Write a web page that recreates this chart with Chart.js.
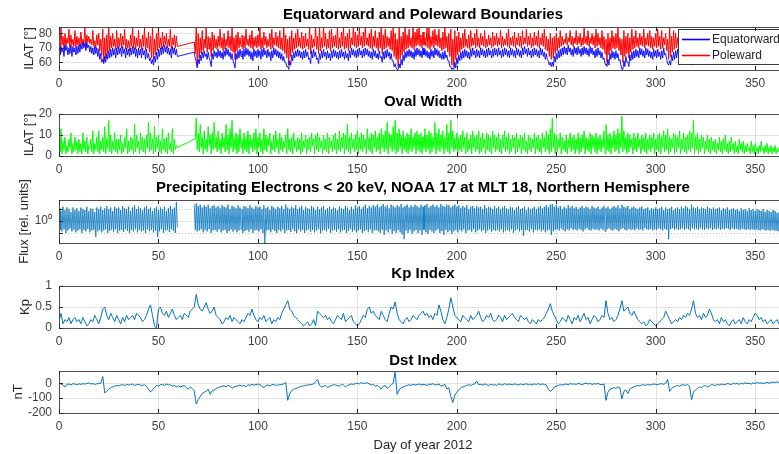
<!DOCTYPE html>
<html>
<head>
<meta charset="utf-8">
<title>Auroral oval 2012</title>
<script src="https://cdn.jsdelivr.net/npm/chart.js@4.4.1/dist/chart.umd.min.js"></script>
<style>
  body { margin: 0; background: #fff; width: 779px; height: 454px; overflow: hidden; position: relative; }
  canvas { position: absolute; left: 0; }
</style>
</head>
<body>
<canvas id="boundaries" width="790" height="94" style="top:0px"></canvas>
<canvas id="width" width="790" height="93" style="top:87px"></canvas>
<canvas id="flux" width="790" height="94" style="top:173px"></canvas>
<canvas id="kp" width="790" height="93" style="top:259px"></canvas>
<canvas id="dst" width="790" height="110" style="top:344px"></canvas>
<script>
const FONT = '"Liberation Sans", Arial, Helvetica, sans-serif';

const dayTicks = [0, 50, 100, 150, 200, 250, 300, 350];
const boundaryTicks = [60, 70, 80];
const widthTicks = [0, 10, 20];
const fluxTicks = [1];
const fluxMinorTicks = [0.5, 2];
const kpTicks = [0, 0.5, 1];
const dstTicks = [-200, -100, 0];

const EQ_COLOR = '#0000ff';
const POLE_COLOR = '#ff0000';
const boundaryLegend = [
  { label: 'Equatorward', color: EQ_COLOR },
  { label: 'Poleward', color: POLE_COLOR },
];

const N = null;

// poleward boundary, daily upper / lower excursions (ILAT deg)
const poleHi = [
  74,84,78,80,77,83,79,76,82,78, 77,81,76,84,79,78,76,82,75,79,
  80,76,83,77,79,85,78,80,76,82, 77,80,78,83,76,75,79,84,78,77,
  82,76,79,84,77,81,78,85,76,80, 84,77,81,78,80,76,83,77,79,78,
  N,N,N,N,N,N,N,N,74,85, 80,77,82,76,84,78,77,81,79,76,
  78,83,77,80,76,82,78,84,77,79, 81,77,79,78,83,76,79,82,77,78,
  79,84,77,81,78,76,80,83,77,81, 78,82,77,84,79,76,78,82,77,80,
  83,77,81,78,80,76,84,79,76,85, 78,84,77,85,80,76,82,83,78,79,
  85,77,81,84,78,80,83,77,85,81, 79,84,78,81,85,77,80,83,78,82,
  77,81,85,79,83,78,77,82,85,80, 76,84,78,81,85,79,83,77,85,81,
  83,85,79,81,77,84,85,78,82,83, 79,83,77,81,85,78,80,83,76,82,
  78,81,77,80,83,76,79,82,77,80, 83,77,80,78,82,76,79,77,81,78,
  80,77,82,78,76,80,83,77,78,81, 77,80,78,82,77,83,78,80,77,81,
  78,82,77,80,83,78,76,80,77,78, 80,77,82,78,76,80,77,82,78,77,
  82,78,80,77,84,78,82,77,80,78, 83,80,77,82,78,76,80,77,82,78,
  80,84,77,76,82,78,80,77,83,78, 82,77,80,78,83,77,80,82,78,77,
  80,83,78,82,77,80,76,84,78,82, 80,77,82,78,80,77,82,76,78,80,
  80,82,81,83,80,82,81,80,82,81, 81,82,80,83,81,80,82,81,80,82,
  81,80,82,81,80,82,81,80,81,82, 80,81,82,80,81,80,82,81,80,81,
  81,80,82,81,80,81
];
const poleLo = [
  70,72,69,71,73,70,72,71,70,72, 71,73,72,70,74,73,72,71,70,72,
  68,65,60,63,66,68,70,71,69,70, 71,70,72,69,70,68,71,70,69,71,
  70,69,71,68,70,67,63,62,65,68, 70,69,71,72,70,71,69,72,70,71,
  N,N,N,N,N,N,N,N,66,58, 63,66,68,70,67,69,64,68,70,69,
  71,70,68,69,71,70,68,67,62,68, 70,71,69,70,72,71,70,69,71,70,
  71,69,70,72,70,71,69,70,72,71, 70,69,68,66,63,58,64,67,69,70,
  71,70,69,70,71,69,66,70,71,69, 66,68,70,71,69,70,68,70,71,70,
  69,70,71,69,70,68,70,72,71,70, 71,72,70,71,72,71,70,69,71,70,
  68,70,66,69,70,71,69,68,64,62, 57,62,65,67,69,70,71,70,69,71,
  72,71,70,72,71,70,69,71,70,72, 71,70,68,69,70,67,64,58,57,62,
  65,67,69,70,71,70,69,71,72,70, 71,70,72,71,70,71,72,70,71,72,
  71,72,70,71,72,71,70,72,71,70, 72,71,70,72,73,71,72,70,71,72,
  71,70,72,71,69,68,64,62,63,66, 68,70,71,72,73,72,74,72,71,73,
  72,73,71,72,73,72,71,73,72,70, 71,72,70,69,66,60,65,68,70,69,
  70,68,65,60,64,66,63,67,69,70, 71,70,72,71,70,72,71,70,69,71,
  70,71,69,70,72,68,62,64,67,69, 70,71,69,70,71,70,68,66,64,66,
  68,69,70,71,70,72,71,70,72,71, 72,71,72,73,72,71,72,73,72,71,
  72,73,72,71,73,72,73,72,71,72, 73,72,71,72,73,72,71,72,73,72,
  72,73,72,71,72,73
];

// equatorward boundary, daily upper / lower excursions (ILAT deg)
const eqHi = [
  70,71,70,72,71,70,72,71,70,71, 72,73,74,73,74,72,71,70,71,70,
  69,66,62,64,66,68,69,70,69,70, 71,70,71,69,70,69,70,71,70,69,
  70,69,70,68,69,66,63,62,64,67, 69,70,71,72,71,70,69,71,70,69,
  N,N,N,N,N,N,N,N,67,60, 62,65,67,68,66,67,61,66,68,67,
  69,68,67,68,70,69,67,66,59,66, 68,69,68,69,70,69,68,67,69,68,
  69,68,69,70,68,69,67,68,70,69, 68,67,66,64,60,57,61,65,67,68,
  69,68,67,68,69,67,63,68,69,67, 63,66,68,69,67,68,66,68,69,68,
  67,68,69,67,68,66,68,70,69,68, 69,70,68,69,70,69,68,67,69,68,
  66,68,64,67,68,69,67,66,61,59, 55,59,62,65,67,68,69,68,67,69,
  70,69,68,70,69,68,67,69,68,70, 69,68,66,67,68,65,61,57,56,60,
  63,65,67,68,69,68,67,69,70,68, 69,68,70,69,68,69,70,68,69,70,
  69,70,68,69,70,69,68,70,69,68, 70,69,68,70,71,69,70,68,69,70,
  69,68,70,69,67,66,61,60,60,64, 66,68,69,70,71,70,72,70,69,71,
  70,71,69,70,71,70,69,71,70,68, 69,70,68,67,63,58,62,66,68,67,
  68,66,62,55,61,64,60,65,67,68, 69,68,70,69,68,70,69,68,67,69,
  68,69,67,68,70,66,59,61,65,67, 68,69,67,68,69,68,66,63,61,63,
  66,67,68,69,68,70,69,68,70,69, 70,69,70,71,70,69,70,71,70,69,
  70,71,70,69,71,70,71,70,69,70, 71,70,69,70,71,70,69,70,71,70,
  70,71,70,69,70,71
];
const eqLo = [
  65,67,64,68,65,66,64,67,65,66, 67,69,70,68,70,67,66,65,66,64,
  62,60,59,60,62,63,64,65,63,65, 66,64,66,63,65,64,65,66,64,63,
  65,63,65,62,63,61,59,58,60,62, 64,65,66,67,66,65,63,66,65,64,
  N,N,N,N,N,N,N,N,63,56, 59,61,63,64,62,63,57,62,64,63,
  64,63,62,64,65,64,62,61,56,62, 63,64,62,64,65,64,62,61,64,63,
  64,62,64,65,63,64,61,63,65,64, 63,62,61,60,57,55,58,61,63,64,
  64,63,62,63,64,62,59,63,64,62, 59,62,63,64,62,63,61,63,64,63,
  62,63,64,62,63,61,63,65,64,63, 64,65,63,64,65,64,63,62,64,63,
  62,63,60,62,63,64,62,61,57,56, 55,56,58,61,63,64,64,63,62,64,
  65,64,63,65,64,63,62,64,63,65, 64,63,62,62,63,61,57,55,55,56,
  59,61,62,63,64,63,62,64,65,63, 64,63,65,64,63,64,65,63,64,65,
  64,65,63,64,65,64,63,65,64,63, 65,64,63,65,66,64,65,63,64,65,
  64,63,65,64,62,62,58,57,57,60, 62,63,64,65,66,65,67,65,64,66,
  65,66,64,65,66,65,64,66,65,63, 64,65,63,62,59,57,58,62,63,62,
  63,61,58,55,57,60,57,61,62,63, 64,63,65,64,63,65,64,63,62,64,
  63,64,62,63,65,62,58,58,61,62, 63,64,62,63,64,63,61,59,58,59,
  63,64,65,66,65,67,66,65,67,66, 67,66,67,68,67,66,67,68,67,66,
  67,68,67,66,68,67,68,67,66,67, 68,67,66,67,68,67,66,67,68,67,
  67,68,67,66,67,68
];

// oval width, daily upper / lower excursions (deg)
const widthHi = [
  6,13,7,9,5,8,11,6,9,7, 8,6,11,7,9,5,8,12,6,9,
  12,7,9,14,8,17,10,7,11,8, 8,10,6,9,13,7,9,8,15,10,
  7,11,9,8,10,16,11,8,14,9, 10,7,13,8,9,11,6,13,8,5,
  N,N,N,N,N,N,N,N,8,18, 11,15,9,12,8,14,10,11,16,9,
  12,8,11,9,15,10,13,17,9,11, 10,13,8,11,9,12,10,8,11,13,
  9,11,8,13,10,9,11,7,10,12, 8,11,9,7,10,13,8,9,11,7,
  9,8,11,7,10,8,9,11,8,10, 11,9,7,10,8,11,9,7,10,11,
  8,12,9,11,10,15,9,11,8,10, 12,9,11,10,8,13,9,11,10,12,
  9,11,13,10,12,16,11,10,14,17, 11,13,10,12,9,11,10,13,9,11,
  12,10,11,9,13,10,12,11,9,16, 11,13,10,12,9,15,11,17,12,9,
  11,9,10,12,9,11,8,10,12,9, 10,12,9,11,8,11,10,9,12,10,
  9,11,8,10,12,9,11,8,10,9, 11,8,10,9,11,7,10,9,8,11,
  9,10,8,11,9,12,10,13,18,11, 10,8,11,9,7,10,8,11,9,10,
  8,11,9,10,12,9,8,11,10,9, 11,9,10,8,12,15,10,11,9,12,
  10,13,11,19,12,9,11,10,8,11, 9,11,8,10,9,11,8,10,9,11,
  8,10,11,9,12,10,13,9,8,11, 10,9,12,8,11,9,10,12,11,17,
  9,11,8,10,9,7,10,8,9,7, 8,6,9,7,8,10,6,7,9,6,
  7,5,8,6,7,5,6,4,7,5, 6,4,5,7,4,5,6,4,5,4,
  5,3,4,5,3,4
];
const widthLo = [
  2,1,3,1,2,4,1,2,3,1, 2,1,3,2,1,4,2,1,3,2,
  1,3,2,1,4,2,1,3,2,1, 3,1,2,4,1,2,3,1,2,4,
  1,3,2,1,4,2,3,1,2,4, 2,1,3,2,1,3,2,1,3,4,
  N,N,N,N,N,N,N,N,8,3, 2,4,1,3,2,5,1,3,4,2,
  3,1,4,2,3,1,4,2,3,1, 2,4,1,3,2,1,4,2,3,1,
  4,2,1,3,2,5,1,3,2,4, 1,3,2,4,1,3,2,1,4,2,
  3,1,2,4,1,3,2,5,1,3, 2,4,1,3,2,1,4,2,3,1,
  3,2,4,1,3,2,1,4,2,3, 1,3,2,4,1,3,2,1,4,2,
  3,1,4,2,3,1,4,2,3,1, 2,4,1,3,2,1,3,2,4,1,
  3,2,1,4,2,3,1,2,4,1, 3,2,4,1,3,2,1,4,2,3,
  1,3,2,4,1,2,3,1,4,2, 3,1,2,4,1,3,2,1,4,2,
  3,2,1,4,2,3,1,2,4,1, 2,4,1,3,2,1,3,2,4,1,
  3,2,1,4,2,3,1,2,4,1, 2,4,1,3,2,1,4,2,3,1,
  3,1,2,4,1,3,2,1,4,2, 1,3,2,4,1,3,2,1,4,2,
  3,1,4,2,3,1,2,4,1,3, 2,4,1,3,2,1,3,2,4,1,
  3,2,1,4,2,3,1,2,4,1, 2,4,1,3,2,1,3,2,4,1,
  3,1,2,4,1,3,2,1,3,2, 1,3,2,1,3,2,1,2,3,1,
  2,1,3,2,1,2,3,1,2,1, 2,1,2,3,1,2,1,2,1,2,
  1,2,1,2,1,2
];

// precipitating electron flux, daily upper / lower excursions (rel. units)
const fluxHi = [
  2.1,1.8,2.3,1.9,2.2,2.0,1.7,2.2,1.9,2.1, 1.8,2.2,2.0,1.9,2.3,1.8,2.1,2.0,1.7,2.2,
  2.0,2.3,1.9,2.1,2.4,2.0,2.2,1.8,2.3,2.1, 2.2,1.9,2.4,2.1,2.0,2.3,1.8,2.2,2.5,2.0,
  2.3,2.1,1.9,2.2,2.4,2.0,2.2,1.8,2.1,2.3, 1.9,2.2,2.0,2.3,1.8,2.1,2.4,2.0,2.2,3.0,
  N,N,N,N,N,N,N,N,2.6,2.8, 2.4,2.6,2.2,2.5,2.3,2.6,2.1,2.4,2.5,2.2,
  2.4,2.1,2.5,2.3,2.2,2.6,2.0,2.4,2.3,2.1, 2.5,2.2,2.0,2.4,2.3,2.1,2.5,2.2,2.0,2.4,
  2.2,2.3,2.0,2.5,2.1,2.3,1.9,2.4,2.2,2.0, 2.3,2.1,2.4,2.0,2.6,2.2,2.0,2.3,2.1,2.5,
  2.0,2.2,2.4,1.9,2.3,2.1,2.0,2.4,2.2,1.9, 2.3,2.0,2.2,2.4,1.9,2.1,2.3,2.0,2.2,2.1,
  1.9,2.3,2.1,2.0,2.4,2.2,1.9,2.3,2.0,2.5, 2.2,2.4,2.0,2.3,2.6,2.1,2.4,2.2,2.5,2.3,
  2.6,2.2,2.4,2.7,2.3,2.5,2.1,2.6,2.4,2.2, 2.5,2.3,2.7,2.2,2.4,2.6,2.2,2.5,2.3,2.6,
  2.4,2.2,2.6,2.3,2.5,2.7,2.2,2.4,2.6,2.3, 2.5,2.2,2.7,2.4,2.3,2.6,2.5,2.2,2.4,2.6,
  2.3,2.5,2.1,2.4,2.2,2.5,2.0,2.3,2.4,2.1, 2.4,2.2,2.3,2.0,2.5,2.1,2.3,2.2,2.0,2.4,
  2.1,2.3,2.0,2.2,2.4,2.1,2.0,2.3,2.2,1.9, 2.2,2.4,2.0,2.1,2.3,1.9,2.2,2.0,2.1,2.3,
  2.0,2.2,2.4,2.1,2.3,2.5,2.2,2.6,2.7,2.3, 2.5,2.2,2.4,2.0,2.3,2.1,2.5,2.2,2.4,2.1,
  2.3,2.0,2.2,2.4,2.1,2.3,2.2,2.0,2.4,2.2, 2.1,2.3,2.0,2.2,2.4,2.1,2.3,2.0,2.2,2.4,
  2.2,2.5,2.1,2.6,2.3,2.2,2.4,2.0,2.2,2.3, 2.1,2.0,2.2,2.3,2.0,2.1,2.2,1.9,2.1,2.0,
  2.2,2.0,2.1,2.3,1.9,2.2,2.0,2.1,2.3,1.9, 2.1,2.2,2.0,2.3,2.1,2.4,2.2,2.0,2.6,2.2,
  2.1,2.3,2.0,2.2,2.1,2.0,2.3,2.1,2.0,2.2, 2.0,2.1,2.2,1.9,2.1,2.0,2.2,1.9,2.0,2.1,
  1.9,2.0,1.8,2.1,1.9,2.0,1.8,2.1,1.9,2.0, 1.8,2.0,1.9,1.8,2.0,1.7,1.9,1.8,1.7,1.9,
  1.8,1.6,1.7,1.8,1.6,1.7
];
const fluxLo = [
  0.6,0.55,0.62,0.5,0.58,0.65,0.55,0.6,0.52,0.58, 0.62,0.5,0.6,0.55,0.63,0.52,0.58,0.6,0.4,0.55,
  0.6,0.52,0.58,0.62,0.5,0.57,0.6,0.54,0.62,0.5, 0.58,0.6,0.53,0.62,0.56,0.5,0.6,0.55,0.62,0.52,
  0.6,0.55,0.58,0.5,0.62,0.56,0.6,0.52,0.58,0.4, 0.55,0.62,0.5,0.58,0.6,0.53,0.62,0.56,0.5,0.7,
  N,N,N,N,N,N,N,N,0.6,0.55, 0.58,0.62,0.52,0.6,0.55,0.63,0.5,0.58,0.6,0.54,
  0.62,0.52,0.58,0.6,0.5,0.56,0.62,0.54,0.6,0.52, 0.58,0.62,0.5,0.56,0.6,0.54,0.62,0.5,0.58,0.6,
  0.55,0.62,0.5,0.28,0.58,0.6,0.52,0.62,0.56,0.5, 0.6,0.55,0.62,0.5,0.58,0.6,0.53,0.62,0.56,0.5,
  0.62,0.55,0.6,0.5,0.58,0.62,0.54,0.6,0.52,0.58, 0.62,0.5,0.58,0.6,0.55,0.63,0.5,0.58,0.6,0.54,
  0.62,0.52,0.58,0.6,0.5,0.56,0.62,0.54,0.6,0.52, 0.58,0.62,0.5,0.56,0.6,0.54,0.62,0.5,0.58,0.6,
  0.55,0.5,0.6,0.45,0.58,0.52,0.62,0.48,0.56,0.5, 0.6,0.52,0.46,0.35,0.58,0.5,0.6,0.48,0.55,0.6,
  0.5,0.58,0.45,0.6,0.52,0.48,0.6,0.55,0.5,0.58, 0.62,0.5,0.56,0.45,0.6,0.52,0.58,0.48,0.55,0.6,
  0.52,0.6,0.55,0.62,0.5,0.58,0.6,0.54,0.62,0.52, 0.58,0.62,0.55,0.6,0.5,0.58,0.62,0.54,0.6,0.56,
  0.6,0.55,0.62,0.52,0.58,0.6,0.55,0.62,0.5,0.58, 0.62,0.55,0.6,0.42,0.58,0.6,0.55,0.62,0.52,0.6,
  0.58,0.62,0.55,0.6,0.52,0.58,0.6,0.45,0.55,0.6, 0.62,0.58,0.65,0.6,0.55,0.62,0.58,0.66,0.6,0.62,
  0.58,0.64,0.6,0.55,0.62,0.66,0.6,0.58,0.64,0.6, 0.62,0.58,0.65,0.6,0.55,0.62,0.66,0.6,0.58,0.64,
  0.6,0.55,0.62,0.66,0.6,0.58,0.64,0.6,0.62,0.58, 0.65,0.6,0.62,0.58,0.66,0.62,0.6,0.64,0.58,0.62,
  0.6,0.66,0.62,0.58,0.64,0.6,0.35,0.62,0.66,0.6, 0.64,0.6,0.62,0.66,0.6,0.64,0.62,0.58,0.66,0.62,
  0.64,0.6,0.66,0.62,0.6,0.65,0.62,0.66,0.6,0.64, 0.62,0.66,0.6,0.64,0.62,0.66,0.64,0.6,0.66,0.62,
  0.64,0.62,0.6,0.64,0.62,0.6,0.63,0.6,0.62,0.6, 0.62,0.6,0.58,0.62,0.6,0.58,0.6,0.57,0.6,0.58,
  0.57,0.55,0.58,0.56,0.55,0.57
];

// daily Kp (scaled)
const kpDaily = [
  0.15,0.35,0.1,0.2,0.15,0.25,0.1,0.2,0.25,0.15, 0.2,0.1,0.25,0.15,0.05,0.1,0.2,0.15,0.3,0.2,
  0.1,0.25,0.45,0.5,0.3,0.2,0.35,0.25,0.15,0.3, 0.2,0.1,0.25,0.15,0.3,0.2,0.25,0.3,0.2,0.35,
  0.3,0.25,0.15,0.2,0.3,0.45,0.55,0.3,0.05,0.0, 0.45,0.5,0.35,0.3,0.4,0.25,0.35,0.45,0.3,0.2,
  0.25,0.3,0.2,0.35,0.3,0.25,0.4,0.45,0.5,0.8, 0.55,0.45,0.4,0.5,0.6,0.45,0.35,0.4,0.5,0.3,
  0.25,0.2,0.1,0.15,0.25,0.2,0.3,0.15,0.25,0.2, 0.15,0.1,0.2,0.15,0.25,0.35,0.3,0.45,0.3,0.2,
  0.15,0.25,0.2,0.3,0.15,0.2,0.25,0.1,0.2,0.15, 0.25,0.2,0.35,0.45,0.55,0.65,0.45,0.4,0.3,0.25,
  0.2,0.15,0.1,0.05,0.1,0.15,0.05,0.1,0.2,0.05, 0.4,0.35,0.3,0.25,0.3,0.2,0.25,0.15,0.1,0.2,
  0.3,0.25,0.2,0.35,0.15,0.2,0.25,0.3,0.15,0.1, 0.05,0.1,0.2,0.3,0.25,0.45,0.5,0.35,0.4,0.3,
  0.25,0.2,0.4,0.3,0.2,0.15,0.35,0.5,0.45,0.62, 0.35,0.2,0.15,0.1,0.2,0.25,0.15,0.2,0.3,0.25,
  0.2,0.3,0.35,0.4,0.3,0.35,0.25,0.3,0.2,0.35, 0.3,0.55,0.4,0.2,0.1,0.25,0.45,0.72,0.5,0.3,
  0.25,0.2,0.15,0.3,0.25,0.2,0.15,0.3,0.2,0.25, 0.3,0.4,0.25,0.15,0.2,0.3,0.25,0.35,0.2,0.15,
  0.2,0.3,0.25,0.15,0.3,0.2,0.25,0.3,0.35,0.25, 0.2,0.15,0.3,0.25,0.2,0.25,0.15,0.1,0.2,0.15,
  0.1,0.2,0.15,0.2,0.25,0.35,0.45,0.58,0.4,0.3, 0.2,0.1,0.15,0.25,0.2,0.15,0.3,0.2,0.1,0.25,
  0.2,0.3,0.15,0.25,0.35,0.2,0.25,0.1,0.2,0.3, 0.25,0.15,0.2,0.3,0.25,0.65,0.35,0.2,0.25,0.15,
  0.2,0.3,0.45,0.65,0.4,0.45,0.5,0.35,0.3,0.4, 0.3,0.2,0.15,0.1,0.15,0.05,0.1,0.2,0.15,0.1,
  0.05,0.1,0.15,0.2,0.25,0.4,0.3,0.2,0.1,0.15, 0.2,0.15,0.25,0.2,0.3,0.25,0.35,0.3,0.45,0.65,
  0.35,0.25,0.3,0.2,0.35,0.25,0.3,0.45,0.35,0.2, 0.15,0.2,0.1,0.25,0.15,0.2,0.1,0.05,0.15,0.2,
  0.1,0.15,0.2,0.1,0.25,0.15,0.1,0.2,0.15,0.25, 0.35,0.3,0.2,0.25,0.15,0.2,0.1,0.15,0.2,0.1,
  0.15,0.2,0.1,0.15,0.25,0.1
];

// daily Dst (nT)
const dstDaily = [
  0,-5,-10,-25,-8,-5,-12,-3,-6,-10, -4,-8,-3,-6,-2,2,-5,-3,-8,-4,
  -2,0,45,-65,-55,-40,-30,-25,-20,-15, -18,-12,-10,-15,-8,-12,-10,-5,-15,-10,
  -8,-12,-15,-10,-20,-40,-60,-45,-30,-15, -20,-10,-8,-15,-5,-12,-10,-20,-15,-25,
  -18,-25,-20,-15,-30,-40,-25,-35,-50,-140, -110,-90,-70,-60,-55,-40,-75,-50,-45,-35,
  -30,-25,-20,-18,-25,-15,-20,-35,-25,-20, -18,-12,-20,-15,-25,-10,-15,-8,-12,-10,
  -5,-10,-20,-30,-15,-12,-18,-10,-8,-15, -12,-10,-8,-5,5,-115,-70,-50,-40,-35,
  -30,-25,-20,-18,-15,-12,-10,-8,-5,10, 25,-15,-25,-20,-15,-30,-20,-15,-10,-12,
  -15,-20,-8,-12,-25,-15,-10,-5,-8,-3, 0,-5,5,-2,0,3,-5,-12,-8,-20,
  -15,-25,-40,-20,-15,-35,-25,-10,0,75, -75,-45,-30,-25,-20,-15,-10,-15,-8,-12,
  -10,-5,-12,-8,-10,-15,-5,-8,-3,-12, -10,-5,-20,-15,-8,-40,-30,-90,-130,-80,
  -60,-45,-30,-25,-20,-15,-10,-15,-8,-5, 15,-10,-8,-12,-5,-10,-15,-8,-12,-10,
  -15,-5,-8,-12,-3,-10,-6,-8,-10,-5, -8,-12,-5,-10,-8,-3,-12,-6,-10,-5,
  -8,-3,-10,-5,-8,-12,-40,-55,-45,-25, -20,-15,-10,-12,-8,-5,-10,-3,-6,-5,
  -8,-2,-5,-10,-3,0,-5,-2,-8,-4, -6,-2,-8,-10,-5,-115,-60,-40,-35,-30,
  -35,-25,-30,-105,-55,-45,-70,-40,-30,-25, -20,-15,-18,-12,-10,-15,-8,-12,-10,-5,
  -8,-10,-5,-3,-8,0,25,-55,-35,-25, -20,-15,-20,-12,-10,-15,-8,-20,-110,-60,
  -45,-35,-25,-30,-20,-15,-25,-18,-10,-12, -15,-8,-12,-5,-10,-8,-3,-5,-10,0,
  -5,-2,-8,0,-5,3,-3,0,-6,2, -2,5,0,3,-4,2,6,0,4,8,
  5,10,3,8,12,6
];

// two points per day: upper excursion at the start, lower one half a day later
function zigzag(hi, lo) {
  const points = [];
  hi.forEach((h, day) => {
    points.push({ x: day, y: h });
    points.push({ x: day + 0.5, y: lo[day] });
  });
  return points;
}

function daily(values) {
  return values.map((v, day) => ({ x: day, y: v }));
}

function drawLegend(ctx, box, items) {
  ctx.fillStyle = '#ffffff';
  ctx.fillRect(box.left, box.top, 200, box.height);
  ctx.strokeStyle = '#3a3a3a';
  ctx.lineWidth = 1;
  ctx.strokeRect(box.left + 0.5, box.top + 0.5, 200, box.height);
  ctx.font = '12px ' + FONT;
  ctx.textBaseline = 'middle';
  ctx.textAlign = 'left';
  items.forEach((item, i) => {
    const cy = box.top + 10 + i * 16;
    // sample line of the series
    ctx.strokeStyle = item.color;
    ctx.lineWidth = 1.6;
    ctx.beginPath();
    ctx.moveTo(box.left + 4, cy + 0.5);
    ctx.lineTo(box.left + 32, cy + 0.5);
    ctx.stroke();
    ctx.fillStyle = '#262626';
    ctx.fillText(item.label, box.left + 34, cy + 1);
  });
}

// MATLAB-like axes: grid under the data, box + inward ticks (+ legend) on top
const matlabAxes = {
  id: 'matlabAxes',
  beforeDatasetsDraw(chart, args, opts) {
    const { ctx, chartArea: a, scales: { x, y } } = chart;
    ctx.save();
    ctx.lineWidth = 1;
    ctx.strokeStyle = '#e2e2e2';
    ctx.beginPath();
    dayTicks.forEach((v) => {
      const px = Math.round(x.getPixelForValue(v)) + 0.5;
      ctx.moveTo(px, a.top);
      ctx.lineTo(px, a.bottom);
    });
    opts.yTicks.forEach((v) => {
      const py = Math.round(y.getPixelForValue(v)) + 0.5;
      ctx.moveTo(a.left, py);
      ctx.lineTo(a.right, py);
    });
    ctx.stroke();
    if (opts.yMinor) {
      ctx.setLineDash([1, 2]);
      ctx.strokeStyle = '#c8c8c8';
      ctx.beginPath();
      opts.yMinor.forEach((v) => {
        const py = Math.round(y.getPixelForValue(v)) + 0.5;
        ctx.moveTo(a.left, py);
        ctx.lineTo(a.right, py);
      });
      ctx.stroke();
    }
    ctx.restore();
  },
  afterDatasetsDraw(chart, args, opts) {
    const { ctx, chartArea: a, scales: { x, y } } = chart;
    ctx.save();

    if (opts.withLegend) {
      drawLegend(ctx, { left: 678, top: 29, height: 35 }, boundaryLegend);
    }

    ctx.strokeStyle = '#4d4d4d';
    ctx.lineWidth = 1;
    ctx.strokeRect(a.left + 0.5, a.top + 0.5, a.right - a.left, a.bottom - a.top);

    ctx.strokeStyle = '#262626';
    ctx.beginPath();
    dayTicks.forEach((v) => {
      const px = Math.round(x.getPixelForValue(v)) + 0.5;
      ctx.moveTo(px, a.top);
      ctx.lineTo(px, a.top + 4);
      ctx.moveTo(px, a.bottom);
      ctx.lineTo(px, a.bottom - 4);
    });
    opts.yTicks.concat(opts.yMinor || []).forEach((v) => {
      const py = Math.round(y.getPixelForValue(v)) + 0.5;
      ctx.moveTo(a.left, py);
      ctx.lineTo(a.left + 4, py);
    });
    ctx.stroke();
    ctx.restore();
  }
};

function makePanel(id, cfg) {
  const last = !!cfg.xTitle;
  return new Chart(document.getElementById(id), {
    type: 'line',
    data: { datasets: cfg.datasets },
    plugins: [matlabAxes],
    options: {
      responsive: false,
      animation: false,
      events: [],
      layout: { padding: { left: 0, right: 3, top: 0, bottom: 0 } },
      elements: { point: { radius: 0 }, line: { tension: 0 } },
      plugins: {
        legend: { display: false },
        tooltip: { enabled: false },
        title: {
          display: true,
          text: cfg.title,
          fullSize: false,
          color: '#000',
          font: { family: FONT, size: 15, weight: 'bold' },
          padding: cfg.titlePad || { top: 6, bottom: 3 },
        },
        matlabAxes: { yTicks: cfg.yTicks, yMinor: cfg.yMinor || null, withLegend: !!cfg.withLegend },
      },
      scales: {
        x: {
          type: 'linear',
          min: 0,
          max: 366,
          grid: { display: false, drawTicks: false },
          border: { display: false },
          afterBuildTicks: (s) => { s.ticks = dayTicks.map((v) => ({ value: v })); },
          afterFit: (s) => { s.height = last ? 41 : 24; },
          ticks: {
            autoSkip: false,
            maxRotation: 0,
            padding: 6,
            color: '#404040',
            font: { family: FONT, size: 12 },
          },
          title: {
            display: last,
            text: cfg.xTitle || '',
            color: '#262626',
            font: { family: FONT, size: 13 },
            padding: { top: 0, bottom: 1 },
          },
        },
        y: {
          type: cfg.yType || 'linear',
          min: cfg.yMin,
          max: cfg.yMax,
          grid: { display: false, drawTicks: false },
          border: { display: false },
          afterBuildTicks: (s) => { s.ticks = cfg.yTicks.map((v) => ({ value: v })); },
          afterFit: (s) => { s.width = 59; },
          ticks: {
            autoSkip: false,
            padding: 7,
            color: '#404040',
            font: { family: FONT, size: 12 },
            callback: cfg.yLabel || ((v) => String(v)),
          },
          title: {
            display: true,
            text: cfg.yTitle,
            color: '#262626',
            font: { family: FONT, size: 13 },
            padding: { top: cfg.yTitlePad, bottom: 0 },
          },
        },
      },
    },
  });
}

makePanel('boundaries', {
  title: 'Equatorward and Poleward Boundaries',
  yTitle: 'ILAT [°]',
  yTitlePad: 22,
  yMin: 54.6,
  yMax: 84.5,
  yTicks: boundaryTicks,
  withLegend: true,
  datasets: [
    { label: 'Equatorward', data: zigzag(eqHi, eqLo), borderColor: EQ_COLOR, borderWidth: 0.9, spanGaps: true },
    { label: 'Poleward', data: zigzag(poleHi, poleLo), borderColor: POLE_COLOR, borderWidth: 1, spanGaps: true },
  ],
});

makePanel('width', {
  title: 'Oval Width',
  yTitle: 'ILAT [°]',
  yTitlePad: 22,
  yMin: 0,
  yMax: 20,
  yTicks: widthTicks,
  datasets: [
    { label: 'Width', data: zigzag(widthHi, widthLo), borderColor: '#00ff00', borderWidth: 1, spanGaps: true },
  ],
});

makePanel('flux', {
  title: 'Precipitating Electrons < 20 keV, NOAA 17 at MLT 18, Northern Hemisphere',
  yTitle: 'Flux [rel. units]',
  yTitlePad: 17,
  yType: 'logarithmic',
  yMin: 0.28,
  yMax: 3.4,
  yTicks: fluxTicks,
  yMinor: fluxMinorTicks,
  yLabel: (v) => (v === 1 ? '10⁰' : ''),
  datasets: [
    { label: 'Flux', data: zigzag(fluxHi, fluxLo), borderColor: '#0072bd', borderWidth: 0.8, spanGaps: false },
  ],
});

makePanel('kp', {
  title: 'Kp Index',
  yTitle: 'Kp',
  yTitlePad: 18,
  yMin: 0,
  yMax: 1,
  yTicks: kpTicks,
  datasets: [
    { label: 'Kp', data: daily(kpDaily), borderColor: '#0072bd', borderWidth: 1 },
  ],
});

makePanel('dst', {
  title: 'Dst Index',
  titlePad: { top: 8, bottom: 1 },
  yTitle: 'nT',
  yTitlePad: 11,
  yMin: -200,
  yMax: 82,
  yTicks: dstTicks,
  xTitle: 'Day of year 2012',
  datasets: [
    { label: 'Dst', data: daily(dstDaily), borderColor: '#0072bd', borderWidth: 1 },
  ],
});
</script>
</body>
</html>
